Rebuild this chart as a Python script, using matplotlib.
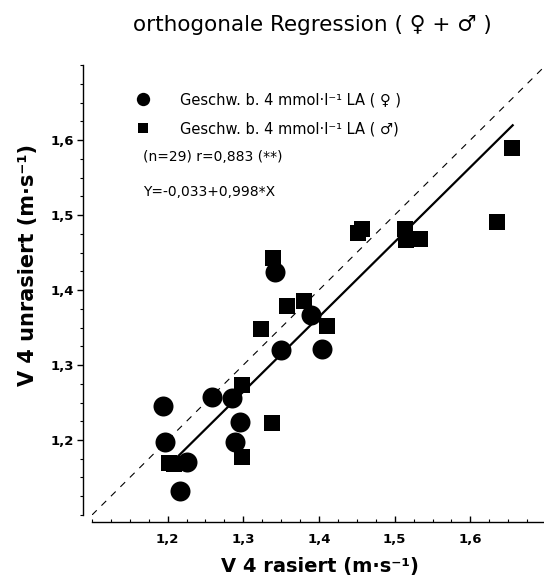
import matplotlib
matplotlib.use("Agg")
import matplotlib.pyplot as plt
from matplotlib.lines import Line2D
from matplotlib.ticker import MultipleLocator, FixedLocator, FixedFormatter

plt.rcParams['font.family'] = ['DejaVu Sans']

# ---- data ----
female_x = [1.194, 1.196, 1.216, 1.226, 1.258, 1.285, 1.296, 1.289, 1.342, 1.350, 1.389, 1.404]
female_y = [1.245, 1.198, 1.132, 1.171, 1.258, 1.256, 1.224, 1.198, 1.424, 1.320, 1.367, 1.321]

male_x = [1.202, 1.208, 1.298, 1.298, 1.338, 1.324, 1.339, 1.358, 1.380, 1.411,
          1.452, 1.457, 1.513, 1.515, 1.533, 1.635, 1.655]
male_y = [1.169, 1.168, 1.274, 1.178, 1.223, 1.348, 1.443, 1.379, 1.385, 1.352,
          1.476, 1.481, 1.481, 1.467, 1.468, 1.491, 1.589]

reg_intercept = -0.033
reg_slope = 0.998
reg_x = [1.21, 1.657]
identity = [1.1, 1.7]

x_ticks = [1.2, 1.3, 1.4, 1.5, 1.6]
x_ticklabels = ["1,2", "1,3", "1,4", "1,5", "1,6"]
y_ticks = [1.2, 1.3, 1.4, 1.5, 1.6]
y_ticklabels = ["1,2", "1,3", "1,4", "1,5", "1,6"]

title = "orthogonale Regression ( \u2640 + \u2642 )"
xlabel = "V 4 rasiert (m\u00b7s\u207b\u00b9)"
ylabel = "V 4 unrasiert (m\u00b7s\u207b\u00b9)"
label_f = "Geschw. b. 4 mmol\u00b7l\u207b\u00b9 LA ( \u2640 )"
label_m = "Geschw. b. 4 mmol\u00b7l\u207b\u00b9 LA ( \u2642)"
stats_text = "(n=29) r=0,883 (**)"
eq_text = "Y=-0,033+0,998*X"

# ---- figure ----
fig = plt.figure(figsize=(5.44, 5.81), dpi=100)
ax = fig.add_axes([0.1691, 0.1136, 0.8346, 0.7745])
ax.set_xlim(1.1, 1.7)
ax.set_ylim(1.1, 1.7)

ax.plot(identity, identity, color='black', lw=0.8, linestyle=(0, (6, 6)), zorder=1)
reg_y = [reg_intercept + reg_slope * v for v in reg_x]
ax.plot(reg_x, reg_y, color='black', lw=1.6, zorder=2, solid_capstyle='butt')

ax.plot(female_x, female_y, linestyle='none', marker='o', markersize=14.4,
        color='black', markeredgewidth=0, zorder=3)
ax.plot(male_x, male_y, linestyle='none', marker='s', markersize=11.5,
        color='black', markeredgewidth=0, zorder=3)

# spines
for s in ['top', 'right']:
    ax.spines[s].set_visible(False)
ax.spines['left'].set_position(('outward', 6.5))
ax.spines['bottom'].set_position(('outward', 5))
ax.spines['left'].set_linewidth(1.0)
ax.spines['bottom'].set_linewidth(1.0)

ax.xaxis.set_major_locator(FixedLocator(x_ticks))
ax.xaxis.set_major_formatter(FixedFormatter(x_ticklabels))
ax.yaxis.set_major_locator(FixedLocator(y_ticks))
ax.yaxis.set_major_formatter(FixedFormatter(y_ticklabels))
ax.xaxis.set_minor_locator(MultipleLocator(0.025))
ax.yaxis.set_minor_locator(MultipleLocator(0.025))

ax.tick_params(axis='x', which='major', direction='in', length=4, width=1.0, pad=8)
ax.tick_params(axis='x', which='minor', direction='in', length=2.5, width=0.8)
ax.tick_params(axis='y', which='major', direction='out', length=4.3, width=1.0, pad=2)
ax.tick_params(axis='y', which='minor', direction='out', length=2.5, width=0.8)
for lab in ax.get_xticklabels() + ax.get_yticklabels():
    lab.set_fontsize(9.5)
    lab.set_fontweight('bold')

ax.set_xlabel(xlabel, fontsize=14, fontweight='bold')
ax.set_ylabel(ylabel, fontsize=15, fontweight='bold')
ax.xaxis.set_label_coords(0.502, -0.093)
ax.yaxis.set_label_coords(-0.12, 0.556)

fig.text(0.574, 0.957, title, ha='center', va='center', fontsize=15.5)

handles = [Line2D([], [], linestyle='none', marker='o', markersize=9.6, color='black', markeredgewidth=0),
           Line2D([], [], linestyle='none', marker='s', markersize=6.7, color='black', markeredgewidth=0)]
ax.legend(handles, [label_f, label_m], loc='upper left', bbox_to_anchor=(0.097, 0.939),
          frameon=False, fontsize=10.5, handlelength=1.0, handletextpad=2.0,
          borderpad=0, borderaxespad=0, labelspacing=0.95)

ax.text(0.113, 0.795, stats_text, transform=ax.transAxes, ha='left', va='center', fontsize=10)
ax.text(0.113, 0.718, eq_text, transform=ax.transAxes, ha='left', va='center', fontsize=10)

fig.savefig("out.png", dpi=100)
